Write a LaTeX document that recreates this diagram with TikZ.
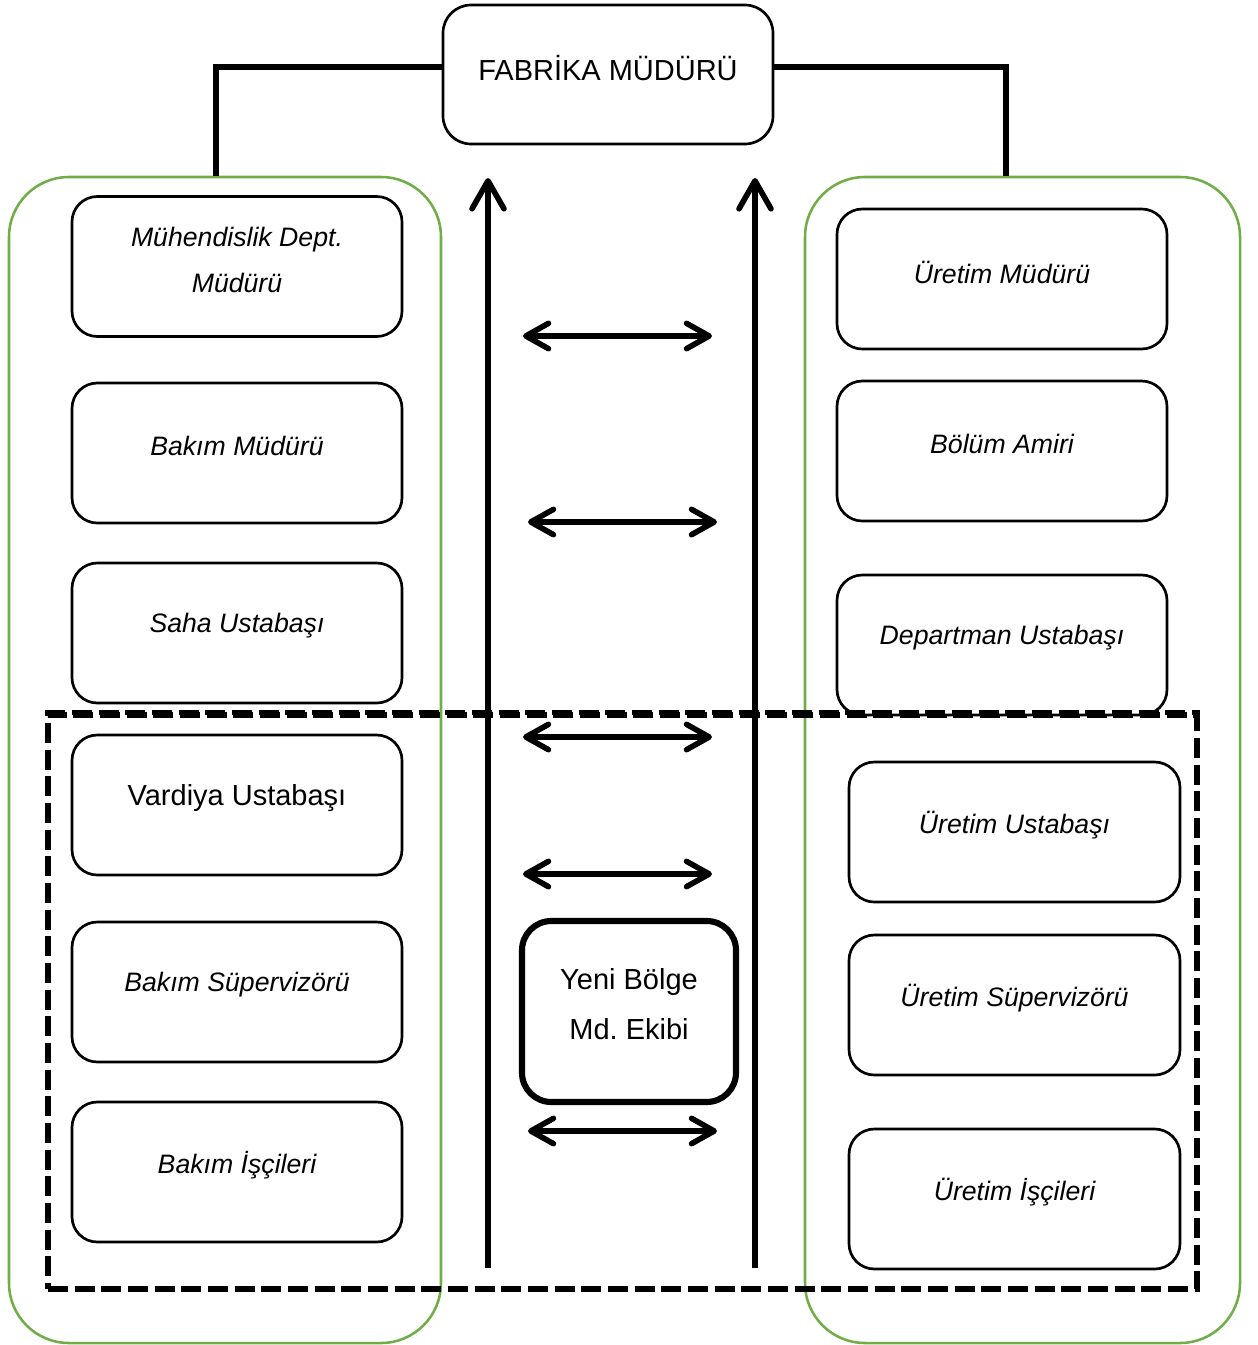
\documentclass[tikz,border=0pt]{standalone}
\usepackage{fontspec}
\setmainfont{Liberation Sans}
\usetikzlibrary{arrows.meta}
\definecolor{grp}{HTML}{70AD47}
\begin{document}
\frenchspacing
\begin{tikzpicture}[x=0.75pt,y=-0.75pt,
  grpbox/.style={draw=grp, line width=1.9pt, rounded corners=45pt, minimum width=#1, minimum height=874.5pt, inner sep=0pt},
  rolebox/.style={draw, line width=2pt, rounded corners=19pt, fill=white, minimum width=#1, minimum height=105pt, inner sep=0pt},
  rolebox/.default=247.5pt,
  lbl/.style={font=\fontsize{20}{34.5}\selectfont\itshape, align=center, inner sep=0pt, yshift=5.2pt},
  uplbl/.style={font=\fontsize{21.75}{37.5}\selectfont, align=center, inner sep=0pt, yshift=5.2pt},
  link/.style={line width=4pt},
  zonebox/.style={draw, line width=4pt, dash pattern=on 15pt off 5pt, minimum width=861.75pt, minimum height=430.5pt, inner sep=0pt},
  uparrow/.style={line width=4.2pt, -{Straight Barb[length=21pt, width=24pt, line cap=round, round]}},
  twoway/.style={line width=4.2pt, {Straight Barb[length=17pt, width=19pt, line cap=round, round]}-{Straight Barb[length=17pt, width=19pt, line cap=round, round]}}
]
\useasboundingbox (0,0) rectangle (1257,1345);

% two department groups
\node[grpbox=324pt] (gl) at (225,760) {};
\node[grpbox=326.25pt] (gr) at (1022.5,760) {};

% head of the plant
\node[rolebox=247.5pt, minimum height=104.25pt, rounded corners=21pt,
      label={[uplbl]center:FABRİKA MÜDÜRÜ}] (top) at (608,74.5) {};
\draw[link] ([yshift=5.6pt]top.west) -| ([xshift=-6.75pt]gl.north);
\draw[link] ([yshift=5.6pt]top.east) -| ([xshift=-12.4pt]gr.north);

% region team zone
\node[zonebox] (zone) at (622.5,1002) {};

% engineering / maintenance chain
\node[rolebox, label={[lbl]center:Mühendislik Dept.\\Müdürü}] (l1) at (237,266.5) {};
\node[rolebox, label={[lbl]center:Bakım Müdürü}] (l2) at (237,453) {};
\node[rolebox, label={[lbl]center:Saha Ustabaşı}] (l3) at (237,633) {};
\node[rolebox, label={[uplbl]center:Vardiya Ustabaşı}] (l4) at (237,805) {};
\node[rolebox, label={[lbl]center:Bakım Süpervizörü}] (l5) at (237,992) {};
\node[rolebox, label={[lbl]center:Bakım İşçileri}] (l6) at (237,1172) {};

% production chain
\node[rolebox, label={[lbl]center:Üretim Müdürü}] (r1) at (1002,279) {};
\node[rolebox, label={[lbl]center:Bölüm Amiri}] (r2) at (1002,451) {};
\node[rolebox, label={[lbl]center:Departman Ustabaşı}] (r3) at (1002,645) {};
\draw[zonebox, minimum width=0pt, minimum height=0pt] (zone.north west) -- (zone.north east);
\node[rolebox=248.25pt, label={[lbl]center:Üretim Ustabaşı}] (r4) at (1014.5,832) {};
\node[rolebox=248.25pt, label={[lbl]center:Üretim Süpervizörü}] (r5) at (1014.5,1005) {};
\node[rolebox=248.25pt, label={[lbl]center:Üretim İşçileri}] (r6) at (1014.5,1199) {};

% new region management team
\node[draw, line width=4.6pt, rounded corners=22pt, fill=white, minimum width=160.5pt,
      minimum height=135.75pt, inner sep=0pt,
      label={[uplbl]center:Yeni Bölge\\Md. Ekibi}] (team) at (629,1011.5) {};

% reporting lines up to the plant manager
\coordinate (v1s) at (488,1268);
\coordinate (v1e) at (488,178);
\coordinate (v2s) at (755,1268);
\coordinate (v2e) at (755,178);
\draw[uparrow] (v1s) -- (v1e);
\draw[uparrow] (v2s) -- (v2e);

% two-way coordination between the chains
\coordinate (h1a) at (523,336);  \coordinate (h1b) at (712,336);
\coordinate (h2a) at (528,522);  \coordinate (h2b) at (717,522);
\coordinate (h3a) at (523,737);  \coordinate (h3b) at (712,737);
\coordinate (h4a) at (523,874);  \coordinate (h4b) at (712,874);
\coordinate (h5a) at (528,1131); \coordinate (h5b) at (717,1131);
\draw[twoway] (h1a) -- (h1b);
\draw[twoway] (h2a) -- (h2b);
\draw[twoway] (h3a) -- (h3b);
\draw[twoway] (h4a) -- (h4b);
\draw[twoway] (h5a) -- (h5b);
\end{tikzpicture}
\end{document}
